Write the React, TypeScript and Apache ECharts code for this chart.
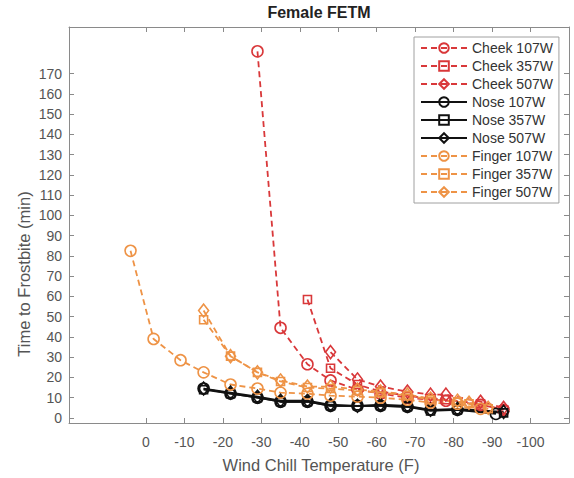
import React, { useEffect, useRef } from "react";
import * as echarts from "echarts";

const xTicks = [0, -10, -20, -30, -40, -50, -60, -70, -80, -90, -100];
const yTicks = [0, 10, 20, 30, 40, 50, 60, 70, 80, 90, 100, 110, 120, 130, 140, 150, 160, 170];

const cheek107X = [-29, -35, -42, -48, -55, -61, -68, -74, -78, -87, -93];
const cheek107Y = [181, 44.5, 26.5, 18.5, 14, 12, 10, 9, 8.5, 6.5, 4];
const cheek357X = [-42, -48, -55, -61, -68, -74, -78, -87, -93];
const cheek357Y = [58.5, 24.5, 16.5, 13, 11, 9.5, 9, 7, 4];
const cheek507X = [-48, -55, -61, -68, -74, -78, -87, -93];
const cheek507Y = [32.5, 19, 15.5, 13, 11.5, 11.5, 8, 5];

const nose107X = [-15, -22, -29, -35, -42, -48, -55, -61, -68, -74, -81, -91];
const nose107Y = [14.5, 12, 10, 8, 8, 6, 6, 6, 5.5, 4, 4, 2];
const nose357X = [-15, -22, -29, -35, -42, -48, -55, -61, -68, -74, -81, -93];
const nose357Y = [14, 12, 10, 8, 8, 6, 6, 6, 5.5, 3.5, 4, 2.5];
const nose507X = [-15, -22, -29, -35, -42, -48, -55, -61, -68, -74, -81, -93];
const nose507Y = [14.5, 12.5, 10.5, 8.5, 8.5, 6.5, 6, 6.5, 6, 4, 4.5, 3];

const finger107X = [4, -2, -9, -15, -22, -29, -35, -42, -48, -55, -61, -68, -74, -81, -87];
const finger107Y = [82.5, 39, 28.5, 22.5, 16.5, 14.5, 12.5, 12, 11, 10.5, 10, 9, 7.5, 7, 4.5];
const finger357X = [-15, -22, -29, -35, -42, -48, -55, -61, -68, -74, -81, -84, -89];
const finger357Y = [48.5, 30.5, 22.5, 18, 15, 14.5, 13.5, 12.5, 11, 9, 8, 7, 4.5];
const finger507X = [-15, -22, -29, -35, -42, -48, -55, -61, -68, -74, -81, -84, -89];
const finger507Y = [53, 30.5, 22.5, 18.5, 15.5, 15.5, 14, 13, 11.5, 9.5, 8.5, 7.5, 5];

const RED = "#d9383a";
const BLACK = "#111111";
const ORANGE = "#ee9346";
const FONT = "Liberation Sans, Arial, sans-serif";

const zip = (xs: number[], ys: number[]) => xs.map((x, i) => [x, ys[i]]);

type Def = { name: string; x: number[]; y: number[]; color: string; dashed: boolean; symbol: string; size: number | number[] };

const defs: Def[] = [
  { name: "Cheek 107W", x: cheek107X, y: cheek107Y, color: RED, dashed: true, symbol: "circle", size: 11 },
  { name: "Cheek 357W", x: cheek357X, y: cheek357Y, color: RED, dashed: true, symbol: "rect", size: 8 },
  { name: "Cheek 507W", x: cheek507X, y: cheek507Y, color: RED, dashed: true, symbol: "diamond", size: [10, 13] },
  { name: "Nose 107W", x: nose107X, y: nose107Y, color: BLACK, dashed: false, symbol: "circle", size: 11 },
  { name: "Nose 357W", x: nose357X, y: nose357Y, color: BLACK, dashed: false, symbol: "rect", size: 8 },
  { name: "Nose 507W", x: nose507X, y: nose507Y, color: BLACK, dashed: false, symbol: "diamond", size: [10, 13] },
  { name: "Finger 107W", x: finger107X, y: finger107Y, color: ORANGE, dashed: true, symbol: "circle", size: 11 },
  { name: "Finger 357W", x: finger357X, y: finger357Y, color: ORANGE, dashed: true, symbol: "rect", size: 8 },
  { name: "Finger 507W", x: finger507X, y: finger507Y, color: ORANGE, dashed: true, symbol: "diamond", size: [10, 13] },
];

const AXIS_COLOR = "#8a8a8a";
const LABEL_COLOR = "#555555";

export default function App() {
  const ref = useRef<HTMLDivElement>(null);
  useEffect(() => {
    if (!ref.current) return;
    const chart = echarts.init(ref.current, null, { renderer: "svg" });
    const xBase = {
      type: "value",
      min: -110,
      max: 20,
      inverse: true,
      splitLine: { show: false },
      axisLine: { show: true, onZero: false, lineStyle: { color: AXIS_COLOR, width: 1 } },
      axisTick: { show: true, inside: true, length: 5, customValues: xTicks, lineStyle: { color: AXIS_COLOR } },
    };
    const yBase = {
      type: "value",
      min: -2.5,
      max: 193,
      splitLine: { show: false },
      axisLine: { show: true, onZero: false, lineStyle: { color: AXIS_COLOR, width: 1 } },
      axisTick: { show: true, inside: true, length: 5, customValues: yTicks, lineStyle: { color: AXIS_COLOR } },
    };
    const option: any = {
      animation: false,
      backgroundColor: "#ffffff",
      grid: { left: 69, right: 5, top: 27, bottom: 55, containLabel: false },
      xAxis: [
        {
          ...xBase,
          position: "bottom",
          axisLabel: {
            show: true,
            customValues: xTicks,
            margin: 12,
            color: LABEL_COLOR,
            fontFamily: FONT,
            fontSize: 14,
            formatter: (v: number) => String(v),
          },
        },
        { ...xBase, position: "top", axisLabel: { show: false } },
      ],
      yAxis: [
        {
          ...yBase,
          position: "left",
          axisLabel: {
            show: true,
            customValues: yTicks,
            margin: 7,
            color: LABEL_COLOR,
            fontFamily: FONT,
            fontSize: 14,
          },
        },
        { ...yBase, position: "right", axisLabel: { show: false } },
      ],
      legend: {
        orient: "vertical",
        left: 414,
        top: 37,
        padding: [4, 6, 4, 6],
        itemGap: 4,
        itemWidth: 46,
        itemHeight: 12,
        backgroundColor: "#ffffff",
        borderColor: "#a0a0a0",
        borderWidth: 1,
        textStyle: { fontFamily: FONT, fontSize: 14, lineHeight: 14, color: "#333333" },
        data: defs.map((d) => d.name),
      },
      graphic: [
        {
          type: "text",
          x: 319,
          y: 12.5,
          style: { text: "Female FETM", fontFamily: FONT, fontSize: 16, fontWeight: "bold", fill: "#222222", align: "center", verticalAlign: "middle" },
        },
        {
          type: "text",
          x: 321,
          y: 465,
          style: { text: "Wind Chill Temperature (F)", fontFamily: FONT, fontSize: 16.5, fill: LABEL_COLOR, align: "center", verticalAlign: "middle" },
        },
        {
          type: "text",
          x: 24,
          y: 274,
          rotation: Math.PI / 2,
          style: { text: "Time to Frostbite (min)", fontFamily: FONT, fontSize: 16.5, fill: LABEL_COLOR, align: "center", verticalAlign: "middle" },
        },
      ],
      series: defs.map((d) => ({
        name: d.name,
        type: "line",
        data: zip(d.x, d.y),
        symbol: d.symbol,
        symbolSize: d.size,
        showSymbol: true,
        lineStyle: { color: d.color, width: 1.8, type: d.dashed ? [6, 4] : "solid" },
        itemStyle: { color: "rgba(255,255,255,0)", borderColor: d.color, borderWidth: 1.6 },
        emphasis: { disabled: true },
      })),
    };
    chart.setOption(option);
    return () => chart.dispose();
  }, []);
  return <div ref={ref} style={{ width: 574, height: 478, position: "absolute", left: 0, top: 0 }} />;
}
